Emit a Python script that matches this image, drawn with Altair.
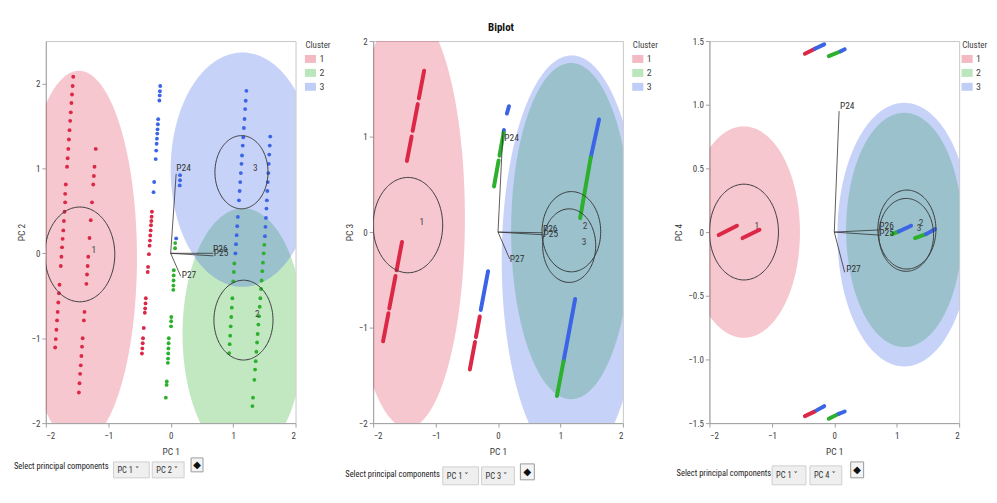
import altair as alt
import numpy as np
import pandas as pd

FONT = "'Liberation Sans Narrow', 'Roboto Condensed', 'Roboto', 'DejaVu Sans', sans-serif"
clusters = ["1", "2", "3"]
cluster_colors = ["#DC2846", "#2DB02D", "#3C64E6"]
ellipse_opacity = {"1": 0.26, "2": 0.29, "3": 0.29}
cscale = alt.Scale(domain=clusters, range=cluster_colors)

W, H = 251, 384

# ---------------- Panel 1 : PC1 vs PC2 (points) ----------------
p1_red_x = [-1.56, -1.57, -1.58, -1.59, -1.60, -1.61, -1.62, -1.63, -1.64, -1.65, -1.66,
            -1.68, -1.69, -1.69, -1.70, -1.71, -1.72, -1.73, -1.74, -1.75, -1.76,
            -1.78, -1.79, -1.80, -1.81, -1.82, -1.83, -1.84, -1.85,
            -1.20, -1.22, -1.23, -1.24, -1.26, -1.28, -1.30, -1.32, -1.33, -1.34, -1.35,
            -1.38, -1.39, -1.41, -1.42, -1.43, -1.44, -1.45, -1.46, -1.47,
            -0.300, -0.305, -0.310, -0.315, -0.320, -0.327, -0.332, -0.338, -0.348, -0.362, -0.368,
            -0.398, -0.403, -0.409, -0.414, -0.431, -0.443, -0.448, -0.454, -0.460]
p1_red_y = [2.08, 1.97, 1.87, 1.77, 1.66, 1.56, 1.45, 1.34, 1.23, 1.12, 1.02,
            0.81, 0.70, 0.60, 0.49, 0.38, 0.27, 0.17, 0.07, -0.04, -0.15,
            -0.37, -0.47, -0.58, -0.69, -0.79, -0.90, -1.01, -1.11,
            1.23, 1.02, 0.91, 0.81, 0.60, 0.39, 0.18, -0.04, -0.15, -0.25, -0.36,
            -0.69, -0.79, -1.00, -1.10, -1.21, -1.32, -1.42, -1.53, -1.64,
            0.49, 0.43, 0.38, 0.33, 0.27, 0.21, 0.15, 0.09, -0.01, -0.16, -0.22,
            -0.53, -0.59, -0.65, -0.70, -0.88, -1.00, -1.06, -1.12, -1.18]
p1_green_x = [0.072, 0.070, 0.050, 0.048, 0.046, 0.044, 0.042, 0.010, 0.008, 0.006,
              -0.030, -0.033, -0.036, -0.039, -0.042, -0.045, -0.062, -0.065, -0.078,
              1.020, 1.012, 1.003, 0.988, 0.979, 0.970, 0.961, 0.953, 0.945, 0.937,
              1.500, 1.490, 1.478, 1.468, 1.457, 1.447, 1.436, 1.426, 1.415, 1.405,
              1.394, 1.384, 1.373, 1.362, 1.352, 1.340, 1.319, 1.309]
p1_green_y = [0.12, 0.06, -0.20, -0.26, -0.32, -0.38, -0.43, -0.75, -0.80, -0.86,
              -1.00, -1.06, -1.12, -1.18, -1.24, -1.29, -1.51, -1.55, -1.70,
              -0.12, -0.22, -0.33, -0.53, -0.64, -0.75, -0.86, -0.97, -1.07, -1.175,
              0.10, 0.00, -0.11, -0.21, -0.32, -0.42, -0.53, -0.63, -0.74, -0.84,
              -0.95, -1.05, -1.16, -1.27, -1.37, -1.49, -1.70, -1.80]
p1_blue_x = [-0.167, -0.172, -0.176, -0.181, -0.200, -0.205, -0.210, -0.215, -0.220, -0.225,
             -0.232, -0.240, -0.264, -0.274,
             0.150, 0.150, 0.145, 0.088,
             1.213, 1.202, 1.193, 1.183, 1.173, 1.163, 1.154, 1.143, 1.134, 1.124, 1.114,
             1.105, 1.094, 1.076, 1.066, 1.057, 1.047, 1.037,
             1.595, 1.587, 1.579, 1.571, 1.564, 1.556, 1.548, 1.541, 1.534, 1.526, 1.518, 1.510]
p1_blue_y = [1.97, 1.91, 1.86, 1.80, 1.58, 1.52, 1.46, 1.41, 1.35, 1.29,
             1.21, 1.11, 0.84, 0.72,
             0.92, 0.86, 0.80, 0.175,
             1.914, 1.797, 1.699, 1.582, 1.476, 1.367, 1.269, 1.152, 1.054, 0.945, 0.839,
             0.734, 0.624, 0.429, 0.320, 0.214, 0.108, 0.000,
             1.375, 1.269, 1.163, 1.054, 0.945, 0.839, 0.734, 0.624, 0.527, 0.417, 0.312, 0.202]

# ---------------- Panel 2 : PC1 vs PC3 (dense score streaks) ----------------
p2_seg_cluster = ["1", "1", "1", "1", "1", "1", "3", "1", "1", "3", "3", "2", "2",
                  "3", "2", "3", "2"]
p2_seg_x1 = [-1.183, -1.285, -1.384, -1.538, -1.642, -1.755, -0.159, -0.292, -0.368, 0.175, 0.095,
             0.090, 0.010, 1.618, 1.485, 1.236, 1.050]
p2_seg_y1 = [1.69, 1.34, 1.00, -0.104, -0.46, -0.85, -0.409, -0.884, -1.15, 1.317, 1.07,
             1.04, 0.75, 1.178, 0.78, -0.70, -1.352]
p2_seg_x2 = [-1.268, -1.367, -1.459, -1.624, -1.741, -1.841, -0.276, -0.354, -0.451, 0.143, 0.090,
             0.024, -0.064, 1.485, 1.316, 1.050, 0.944]
p2_seg_y2 = [1.40, 1.06, 0.745, -0.40, -0.80, -1.144, -0.815, -1.10, -1.438, 1.241, 1.04,
             0.80, 0.478, 0.78, 0.146, -1.352, -1.716]

# ---------------- Panel 3 : PC1 vs PC4 ----------------
p3_seg_cluster = ["1", "3", "2", "3", "1", "3", "2", "3", "1", "1", "2", "3", "2", "3"]
p3_seg_x1 = [-0.470, -0.310, -0.088, 0.104, -0.470, -0.284, -0.088, 0.072, -1.851, -1.469,
             0.927, 1.033, 1.293, 1.469]
p3_seg_y1 = [1.400, 1.440, 1.382, 1.420, -1.445, -1.400, -1.466, -1.427, -0.023, -0.047,
             -0.016, 0.005, -0.047, -0.016]
p3_seg_x2 = [-0.310, -0.162, 0.104, 0.167, -0.310, -0.162, 0.072, 0.167, -1.559, -1.198,
             1.033, 1.230, 1.469, 1.612]
p3_seg_y2 = [1.440, 1.474, 1.420, 1.435, -1.408, -1.367, -1.427, -1.409, 0.050, 0.018,
             0.005, 0.050, -0.016, 0.023]

# ---------------- density ellipses (cx, cy, semi-x, semi-y) ----------------
ell_p1 = {"1": (-1.47, -0.05, 0.93, 2.20), "2": (1.16, -0.95, 0.97, 1.48), "3": (1.15, 0.985, 1.15, 1.38)}
ell_p2 = {"1": (-1.45, 0.15, 0.92, 2.20), "2": (1.17, 0.01, 0.96, 1.76), "3": (1.18, -0.30, 1.12, 2.15)}
ell_p3 = {"1": (-1.45, 0.00, 0.90, 0.83), "2": (1.12, 0.017, 0.93, 0.92), "3": (1.12, -0.02, 1.07, 1.035)}

# ---------------- mean circles (cx, cy, rx, ry) ----------------
circ_p1 = {"1": (-1.455, -0.013, 0.56, 0.558), "2": (1.166, -0.787, 0.473, 0.47), "3": (1.134, 0.955, 0.425, 0.431)}
circ_p2 = {"1": (-1.443, 0.073, 0.557, 0.499), "2": (1.175, 0.004, 0.47, 0.42), "3": (1.14, -0.142, 0.425, 0.385)}
circ_p3 = {"1": (-1.447, 0.0, 0.553, 0.376), "2": (1.163, 0.02, 0.465, 0.31), "3": (1.152, -0.022, 0.438, 0.286)}

clab_p1 = {"1": (-1.23, 0.04), "2": (1.39, -0.71), "3": (1.357, 1.01)}
clab_p2 = {"1": (-1.22, 0.11), "2": (1.395, 0.06), "3": (1.38, -0.10)}
clab_p3 = {"1": (-1.24, 0.05), "2": (1.39, 0.07), "3": (1.36, 0.03)}

# ---------------- loading rays ----------------
ray_names = ["P24", "P26", "P25", "P27"]
rays_p1 = {"x": [0.088, 0.682, 0.682, 0.161], "y": [0.936, 0.0, -0.03, -0.27],
           "lx": [0.09, 0.68, 0.69, 0.177], "ly": [1.0, 0.05, 0.0, -0.26]}
rays_p2 = {"x": [0.08, 0.716, 0.716, 0.186], "y": [1.06, -0.007, -0.028, -0.28],
           "lx": [0.10, 0.72, 0.73, 0.19], "ly": [0.99, 0.035, -0.025, -0.28]}
rays_p3 = {"x": [0.077, 0.725, 0.725, 0.167], "y": [0.95, 0.017, -0.024, -0.316],
           "lx": [0.09, 0.72, 0.72, 0.19], "ly": [0.99, 0.045, -0.01, -0.29]}


def ellipse_fill(cl, p):
    cx, cy, a, b = p
    t = np.linspace(0, np.pi, 181)
    return pd.DataFrame({"cluster": cl, "ex": cx + a * np.cos(t),
                         "lo": cy - b * np.sin(t), "hi": cy + b * np.sin(t)})


def ellipse_ring(cl, p):
    cx, cy, a, b = p
    t = np.linspace(0, 2 * np.pi, 161)
    return pd.DataFrame({"cluster": cl, "i": np.arange(len(t)),
                         "cxp": cx + a * np.cos(t), "cyp": cy + b * np.sin(t)})


def controls(tx, ty, b1, b2, btn, lab1, lab2):
    one = alt.Data(values=[{"k": 1}])
    layers = [alt.Chart(one).mark_text(text="Select principal components", align="left",
                                        baseline="middle", fontSize=8.5, color="#222", font=FONT)
              .encode(x=alt.value(tx), y=alt.value(ty))]
    for (x0, x1, y0, y1), lab in ((b1, lab1), (b2, lab2)):
        layers.append(alt.Chart(one).mark_rect(fill="#efefef", stroke="#cfcfcf", strokeWidth=1)
                      .encode(x=alt.value(x0), x2=alt.value(x1), y=alt.value(y0), y2=alt.value(y1)))
        layers.append(alt.Chart(one).mark_text(text=lab + "  \u02c5", align="left", baseline="middle",
                                               fontSize=8.5, color="#333", font=FONT)
                      .encode(x=alt.value(x0 + 4), y=alt.value((y0 + y1) / 2)))
    x0, x1, y0, y1 = btn
    layers.append(alt.Chart(one).mark_rect(fill="#f4f4f4", stroke="#9a9a9a", strokeWidth=1)
                  .encode(x=alt.value(x0), x2=alt.value(x1), y=alt.value(y0), y2=alt.value(y1)))
    layers.append(alt.Chart(one).mark_text(text="\u25c6", align="center", baseline="middle",
                                           fontSize=10, color="#111", font="DejaVu Sans")
                  .encode(x=alt.value((x0 + x1) / 2), y=alt.value((y0 + y1) / 2)))
    return layers


def panel(ydom, ytitle, yvals, ell, circ, clab, rays, pts, segs, ctrl, ylabelexpr=None, legoff=10):
    xs = alt.Scale(domain=[-2, 2], nice=False, zero=False)
    ys = alt.Scale(domain=ydom, nice=False, zero=False)
    xax = alt.Axis(title="PC 1", values=[-2, -1, 0, 1, 2], grid=False, format="d",
                   labelPadding=4, titlePadding=7)
    yk = dict(title=ytitle, values=yvals, grid=False)
    if ylabelexpr:
        yk["labelExpr"] = ylabelexpr
    yax = alt.Axis(**yk)
    leg = alt.Legend(title="Cluster", orient="right", offset=legoff,
                     symbolType="M-1.4,-1H1.4V1H-1.4Z", symbolSize=64, symbolOpacity=0.32,
                     symbolStrokeWidth=0)

    layers = []
    for cl in clusters:
        layers.append(alt.Chart(ellipse_fill(cl, ell[cl])).mark_area(
            opacity=ellipse_opacity[cl], clip=True).encode(
            x=alt.X("ex:Q", scale=xs, axis=xax),
            y=alt.Y("lo:Q", scale=ys, axis=yax, stack=None),
            y2="hi:Q",
            color=alt.Color("cluster:N", scale=cscale, legend=leg)))
    if pts is not None:
        layers.append(alt.Chart(pts).mark_circle(size=15, opacity=1, clip=True).encode(
            x=alt.X("px:Q", scale=xs, axis=xax),
            y=alt.Y("py:Q", scale=ys, axis=yax),
            color=alt.Color("cluster:N", scale=cscale, legend=None)))
    if segs is not None:
        layers.append(alt.Chart(segs).mark_rule(strokeWidth=4, strokeCap="round", clip=True).encode(
            x=alt.X("x1:Q", scale=xs, axis=xax),
            y=alt.Y("y1:Q", scale=ys, axis=yax),
            x2="x2:Q", y2="y2:Q",
            color=alt.Color("cluster:N", scale=cscale, legend=None)))
    ring = pd.concat([ellipse_ring(cl, circ[cl]) for cl in clusters])
    layers.append(alt.Chart(ring).mark_line(color="#3a3a3a", strokeWidth=1, clip=True).encode(
        x=alt.X("cxp:Q", scale=xs, axis=xax),
        y=alt.Y("cyp:Q", scale=ys, axis=yax),
        detail="cluster:N", order="i:Q"))
    cl_df = pd.DataFrame({"lab": clusters, "lx": [clab[c][0] for c in clusters],
                          "ly": [clab[c][1] for c in clusters]})
    layers.append(alt.Chart(cl_df).mark_text(fontSize=9.5, color="#444", font=FONT).encode(
        x=alt.X("lx:Q", scale=xs, axis=xax), y=alt.Y("ly:Q", scale=ys, axis=yax), text="lab:N"))
    rdf = pd.DataFrame({"name": ray_names, "x0": 0.0, "y0": 0.0, **rays})
    layers.append(alt.Chart(rdf).mark_rule(color="#333", strokeWidth=0.8).encode(
        x=alt.X("x0:Q", scale=xs, axis=xax), y=alt.Y("y0:Q", scale=ys, axis=yax),
        x2="x:Q", y2="y:Q"))
    layers.append(alt.Chart(rdf).mark_text(align="left", baseline="middle", fontSize=9.5,
                                           color="#333", font=FONT).encode(
        x=alt.X("lx:Q", scale=xs, axis=xax), y=alt.Y("ly:Q", scale=ys, axis=yax), text="name:N"))
    layers += controls(*ctrl)
    return alt.layer(*layers).properties(width=W, height=H)


pts1 = pd.concat([
    pd.DataFrame({"cluster": "1", "px": p1_red_x, "py": p1_red_y}),
    pd.DataFrame({"cluster": "2", "px": p1_green_x, "py": p1_green_y}),
    pd.DataFrame({"cluster": "3", "px": p1_blue_x, "py": p1_blue_y}),
])
segs2 = pd.DataFrame({"cluster": p2_seg_cluster, "x1": p2_seg_x1, "y1": p2_seg_y1,
                      "x2": p2_seg_x2, "y2": p2_seg_y2})
segs3 = pd.DataFrame({"cluster": p3_seg_cluster, "x1": p3_seg_x1, "y1": p3_seg_y1,
                      "x2": p3_seg_x2, "y2": p3_seg_y2})

c1 = panel([-2, 2.5], "PC 2", [-2, -1, 0, 1, 2], ell_p1, circ_p1, clab_p1, rays_p1, pts1, None,
           (-32, 427, (68, 104, 423, 439), (107, 139, 423, 439), (146, 158, 419, 433), "PC 1", "PC 2"))
c2 = panel([-2, 2], "PC 3", [-2, -1, 0, 1, 2], ell_p2, circ_p2, clab_p2, rays_p2, None, segs2,
           (-28, 435, (70, 106, 428, 446), (109, 142, 428, 446), (148, 162, 425, 441), "PC 1", "PC 3"))
c3 = panel([-1.5, 1.5], "PC 4", [-1.5, -1.0, -0.5, 0, 0.5, 1.0, 1.5], ell_p3, circ_p3, clab_p3, rays_p3,
           None, segs3,
           (-33, 434, (63, 97, 427, 446), (101, 133, 427, 446), (142, 155, 423, 439), "PC 1", "PC 4"),
           ylabelexpr="datum.value == 0 ? '0' : format(datum.value, '.1f')", legoff=3)

left_pair = alt.hconcat(c1, c2, spacing=11).resolve_scale(color="independent")
chart = alt.hconcat(left_pair, c3, spacing=13).resolve_scale(color="independent").properties(
    title=alt.TitleParams("Biplot", fontSize=11, fontWeight="bold", anchor="middle", offset=4,
                          font=FONT, color="#111"),
    padding={"left": 5, "top": 12, "right": 0, "bottom": 0},
    background="white",
).configure_view(stroke="#c8c8c8", fill="white").configure_axis(
    labelFont=FONT, titleFont=FONT, labelFontSize=9, titleFontSize=9.5, titleFontWeight="normal",
    labelColor="#3c3c3c", titleColor="#3c3c3c", domainColor="#a0a0a0", tickColor="#a0a0a0",
    tickSize=4, labelPadding=2, titlePadding=4,
).configure_legend(
    titleFont=FONT, labelFont=FONT, titleFontSize=9, titleFontWeight="normal", titleColor="#444",
    labelFontSize=10, labelColor="#444", rowPadding=4, titlePadding=4,
)

chart.save("out.html", embed_options={"renderer": "svg", "actions": False})
